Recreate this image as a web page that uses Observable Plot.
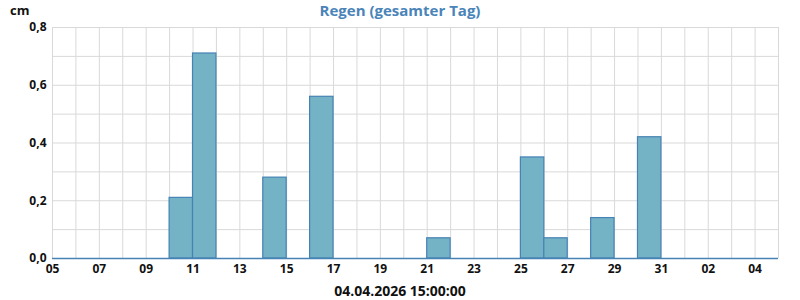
<!DOCTYPE html>
<html>
<head>
<meta charset="utf-8">
<script src="https://cdn.jsdelivr.net/npm/d3@7"></script>
<script src="https://cdn.jsdelivr.net/npm/@observablehq/plot@0.6"></script>
<style>
  html, body { margin: 0; padding: 0; background: #fff; }
  #wrap { position: relative; width: 800px; height: 300px; font-family: "Open Sans", sans-serif; }
  #title { position: absolute; top: 0; left: 0; width: 800px; text-align: center; font-weight: 700; font-size: 15px; color: #4a84b8; line-height: 20px; }
  #unit { position: absolute; top: 0; left: 10px; font-weight: 700; font-size: 13px; color: #111; line-height: 20px; }
  #caption { position: absolute; top: 281px; left: 0; width: 800px; text-align: center; font-weight: 700; font-size: 14px; color: #111; line-height: 20px; }
  #chart { position: absolute; top: 0; left: 0; }
</style>
</head>
<body>
<div id="wrap">
  <div id="chart"></div>
  <div id="title"></div>
  <div id="unit"></div>
  <div id="caption"></div>
</div>
<script>
const titleText = "Regen (gesamter Tag)";
const unitText = "cm";
const captionText = "04.04.2026 15:00:00";

const domainStart = "2026-03-05";
const domainEnd = "2026-04-05";

const rainDays = ["2026-03-10", "2026-03-11", "2026-03-14", "2026-03-16", "2026-03-21", "2026-03-25", "2026-03-26", "2026-03-28", "2026-03-30"];
const rainValues = [0.21, 0.71, 0.28, 0.56, 0.07, 0.35, 0.07, 0.14, 0.42];

const xTickDates = ["2026-03-05", "2026-03-07", "2026-03-09", "2026-03-11", "2026-03-13", "2026-03-15", "2026-03-17", "2026-03-19", "2026-03-21", "2026-03-23", "2026-03-25", "2026-03-27", "2026-03-29", "2026-03-31", "2026-04-02", "2026-04-04"];
const yTicks = [0, 0.2, 0.4, 0.6, 0.8];
const yGrid = [0, 0.1, 0.2, 0.3, 0.4, 0.5, 0.6, 0.7, 0.8];

const parse = d3.utcParse("%Y-%m-%d");
const data = rainDays.map((d, i) => ({
  start: parse(d),
  end: d3.utcDay.offset(parse(d), 1),
  value: rainValues[i]
}));
const dayGrid = d3.utcDay.range(parse(domainStart), d3.utcDay.offset(parse(domainEnd), 1));

document.getElementById("title").textContent = titleText;
document.getElementById("unit").textContent = unitText;
document.getElementById("caption").textContent = captionText;

const chart = Plot.plot({
  width: 800,
  height: 300,
  marginTop: 27,
  marginBottom: 42,
  marginLeft: 52,
  marginRight: 22,
  style: { fontFamily: "Open Sans, sans-serif", fontSize: "12px", fontWeight: "700", color: "#111", background: "transparent" },
  x: { type: "utc", domain: [parse(domainStart), parse(domainEnd)] },
  y: { domain: [0, 0.8] },
  marks: [
    Plot.gridX(dayGrid, { stroke: "#d9d9d9", strokeOpacity: 1, strokeWidth: 1 }),
    Plot.gridY(yGrid, { stroke: "#d9d9d9", strokeOpacity: 1, strokeWidth: 1 }),
    Plot.rectY(data, { x1: "start", x2: "end", y: "value", fill: "#74b2c6", stroke: "#4682b4", strokeWidth: 1.2, inset: 0 }),
    Plot.ruleY([0], { stroke: "#4682b4", strokeWidth: 1.5 }),
    Plot.axisX(xTickDates.map(parse), { tickSize: 0, tickPadding: 6, tickFormat: d3.utcFormat("%d"), label: null, fill: "#111" }),
    Plot.axisY(yTicks, { tickSize: 0, tickPadding: 6, tickFormat: d => d.toFixed(1).replace(".", ","), label: null, fill: "#111" })
  ]
});
document.getElementById("chart").appendChild(chart);
</script>
</body>
</html>
